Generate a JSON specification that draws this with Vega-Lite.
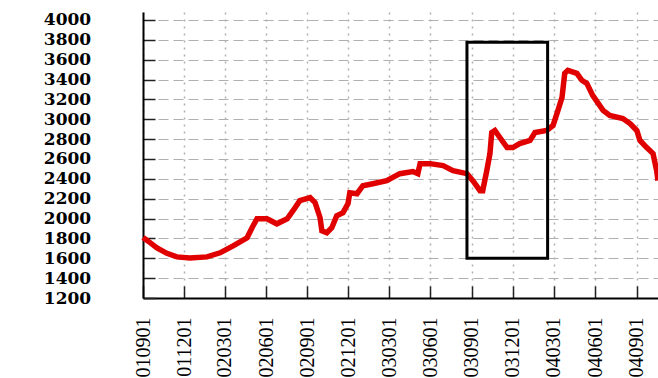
{
  "$schema": "https://vega.github.io/schema/vega-lite/v6.json",
  "autosize": {"type": "none"},
  "padding": {"left": 143, "top": 12, "right": 0, "bottom": 80},
  "width": 515,
  "height": 286,
  "background": "white",
  "config": {"view": {"stroke": null}},
  "datasets": {
    "series": [
      {"date": "2001-09-01", "value": 1810},
      {"date": "2001-09-16", "value": 1760},
      {"date": "2001-10-02", "value": 1705},
      {"date": "2001-10-24", "value": 1650},
      {"date": "2001-11-15", "value": 1614},
      {"date": "2001-12-14", "value": 1604},
      {"date": "2002-01-21", "value": 1614},
      {"date": "2002-02-19", "value": 1655},
      {"date": "2002-03-20", "value": 1725},
      {"date": "2002-04-20", "value": 1806},
      {"date": "2002-05-01", "value": 1907},
      {"date": "2002-05-12", "value": 1998},
      {"date": "2002-06-03", "value": 1998},
      {"date": "2002-06-25", "value": 1947},
      {"date": "2002-07-18", "value": 1998},
      {"date": "2002-07-31", "value": 2079},
      {"date": "2002-08-15", "value": 2180},
      {"date": "2002-09-07", "value": 2210},
      {"date": "2002-09-18", "value": 2160},
      {"date": "2002-09-29", "value": 2008},
      {"date": "2002-10-03", "value": 1877},
      {"date": "2002-10-14", "value": 1857},
      {"date": "2002-10-25", "value": 1907},
      {"date": "2002-11-05", "value": 2028},
      {"date": "2002-11-19", "value": 2059},
      {"date": "2002-11-30", "value": 2150},
      {"date": "2002-12-04", "value": 2260},
      {"date": "2002-12-20", "value": 2250},
      {"date": "2003-01-02", "value": 2331},
      {"date": "2003-01-24", "value": 2351},
      {"date": "2003-02-24", "value": 2382},
      {"date": "2003-03-25", "value": 2452},
      {"date": "2003-04-23", "value": 2473},
      {"date": "2003-05-04", "value": 2452},
      {"date": "2003-05-09", "value": 2553},
      {"date": "2003-05-31", "value": 2553},
      {"date": "2003-06-29", "value": 2533},
      {"date": "2003-07-21", "value": 2483},
      {"date": "2003-08-21", "value": 2452},
      {"date": "2003-09-03", "value": 2382},
      {"date": "2003-09-19", "value": 2281},
      {"date": "2003-09-25", "value": 2281},
      {"date": "2003-10-04", "value": 2483},
      {"date": "2003-10-11", "value": 2654},
      {"date": "2003-10-15", "value": 2866},
      {"date": "2003-10-22", "value": 2887},
      {"date": "2003-11-02", "value": 2816},
      {"date": "2003-11-18", "value": 2715},
      {"date": "2003-12-01", "value": 2715},
      {"date": "2003-12-16", "value": 2755},
      {"date": "2004-01-08", "value": 2786},
      {"date": "2004-01-19", "value": 2866},
      {"date": "2004-02-14", "value": 2887},
      {"date": "2004-02-28", "value": 2937},
      {"date": "2004-03-10", "value": 3089},
      {"date": "2004-03-19", "value": 3220},
      {"date": "2004-03-25", "value": 3462},
      {"date": "2004-04-01", "value": 3493},
      {"date": "2004-04-21", "value": 3462},
      {"date": "2004-05-02", "value": 3392},
      {"date": "2004-05-13", "value": 3361},
      {"date": "2004-05-26", "value": 3240},
      {"date": "2004-06-18", "value": 3089},
      {"date": "2004-07-03", "value": 3038},
      {"date": "2004-08-01", "value": 3008},
      {"date": "2004-08-17", "value": 2957},
      {"date": "2004-09-01", "value": 2887},
      {"date": "2004-09-08", "value": 2786},
      {"date": "2004-09-23", "value": 2715},
      {"date": "2004-10-07", "value": 2654},
      {"date": "2004-10-15", "value": 2483},
      {"date": "2004-10-18", "value": 2382}
    ],
    "box": [
      {"date": "2003-08-21", "date_end": "2004-02-16", "value": 1600, "value_end": 3775}
    ]
  },
  "encoding": {
    "x": {
      "field": "date", "type": "temporal",
      "scale": {"type": "utc", "domain": [{"year": 2001, "month": 9, "date": 1, "utc": true}, {"year": 2004, "month": 10, "date": 18, "utc": true}]},
      "axis": {
        "title": null,
        "format": "%y%m%d",
        "values": [
          {"year": 2001, "month": 9, "date": 1, "utc": true},
          {"year": 2001, "month": 12, "date": 1, "utc": true},
          {"year": 2002, "month": 3, "date": 1, "utc": true},
          {"year": 2002, "month": 6, "date": 1, "utc": true},
          {"year": 2002, "month": 9, "date": 1, "utc": true},
          {"year": 2002, "month": 12, "date": 1, "utc": true},
          {"year": 2003, "month": 3, "date": 1, "utc": true},
          {"year": 2003, "month": 6, "date": 1, "utc": true},
          {"year": 2003, "month": 9, "date": 1, "utc": true},
          {"year": 2003, "month": 12, "date": 1, "utc": true},
          {"year": 2004, "month": 3, "date": 1, "utc": true},
          {"year": 2004, "month": 6, "date": 1, "utc": true},
          {"year": 2004, "month": 9, "date": 1, "utc": true}
        ],
        "labelAngle": -90,
        "labelFont": "Liberation Serif",
        "labelFontSize": 20,
        "labelColor": "#000",
        "labelPadding": 31,
        "labelOverlap": false,
        "labelFlush": false,
        "labelBound": false,
        "tickSize": -12,
        "tickColor": "#222",
        "tickWidth": 1.5,
        "domainColor": "#000",
        "domainWidth": 2,
        "grid": true,
        "gridColor": "#b0b0b0",
        "gridDash": [2, 5],
        "gridWidth": 1.5
      }
    },
    "y": {
      "field": "value", "type": "quantitative",
      "scale": {"domain": [1200, 4080], "nice": false, "zero": false},
      "axis": {
        "title": null,
        "format": "d",
        "values": [1200, 1400, 1600, 1800, 2000, 2200, 2400, 2600, 2800, 3000, 3200, 3400, 3600, 3800, 4000],
        "labelFont": "DejaVu Serif",
        "labelFontSize": 17,
        "labelFontWeight": "bold",
        "labelColor": "#000",
        "labelAlign": "center",
        "labelBaseline": "middle",
        "labelPadding": 88,
        "labelOverlap": false,
        "labelFlush": false,
        "labelBound": false,
        "tickSize": -12,
        "tickColor": "#222",
        "tickWidth": 1.5,
        "domainColor": "#000",
        "domainWidth": 2,
        "grid": true,
        "gridColor": "#b0b0b0",
        "gridDash": [10, 5],
        "gridWidth": 1.2
      }
    }
  },
  "layer": [
    {
      "data": {"name": "series"},
      "mark": {"type": "line", "color": "#e00000", "strokeWidth": 5.5, "strokeJoin": "miter"}
    },
    {
      "data": {"name": "box"},
      "mark": {"type": "rect", "filled": false, "stroke": "#000", "strokeWidth": 3},
      "encoding": {
        "x2": {"field": "date_end"},
        "y2": {"field": "value_end"}
      }
    }
  ]
}
